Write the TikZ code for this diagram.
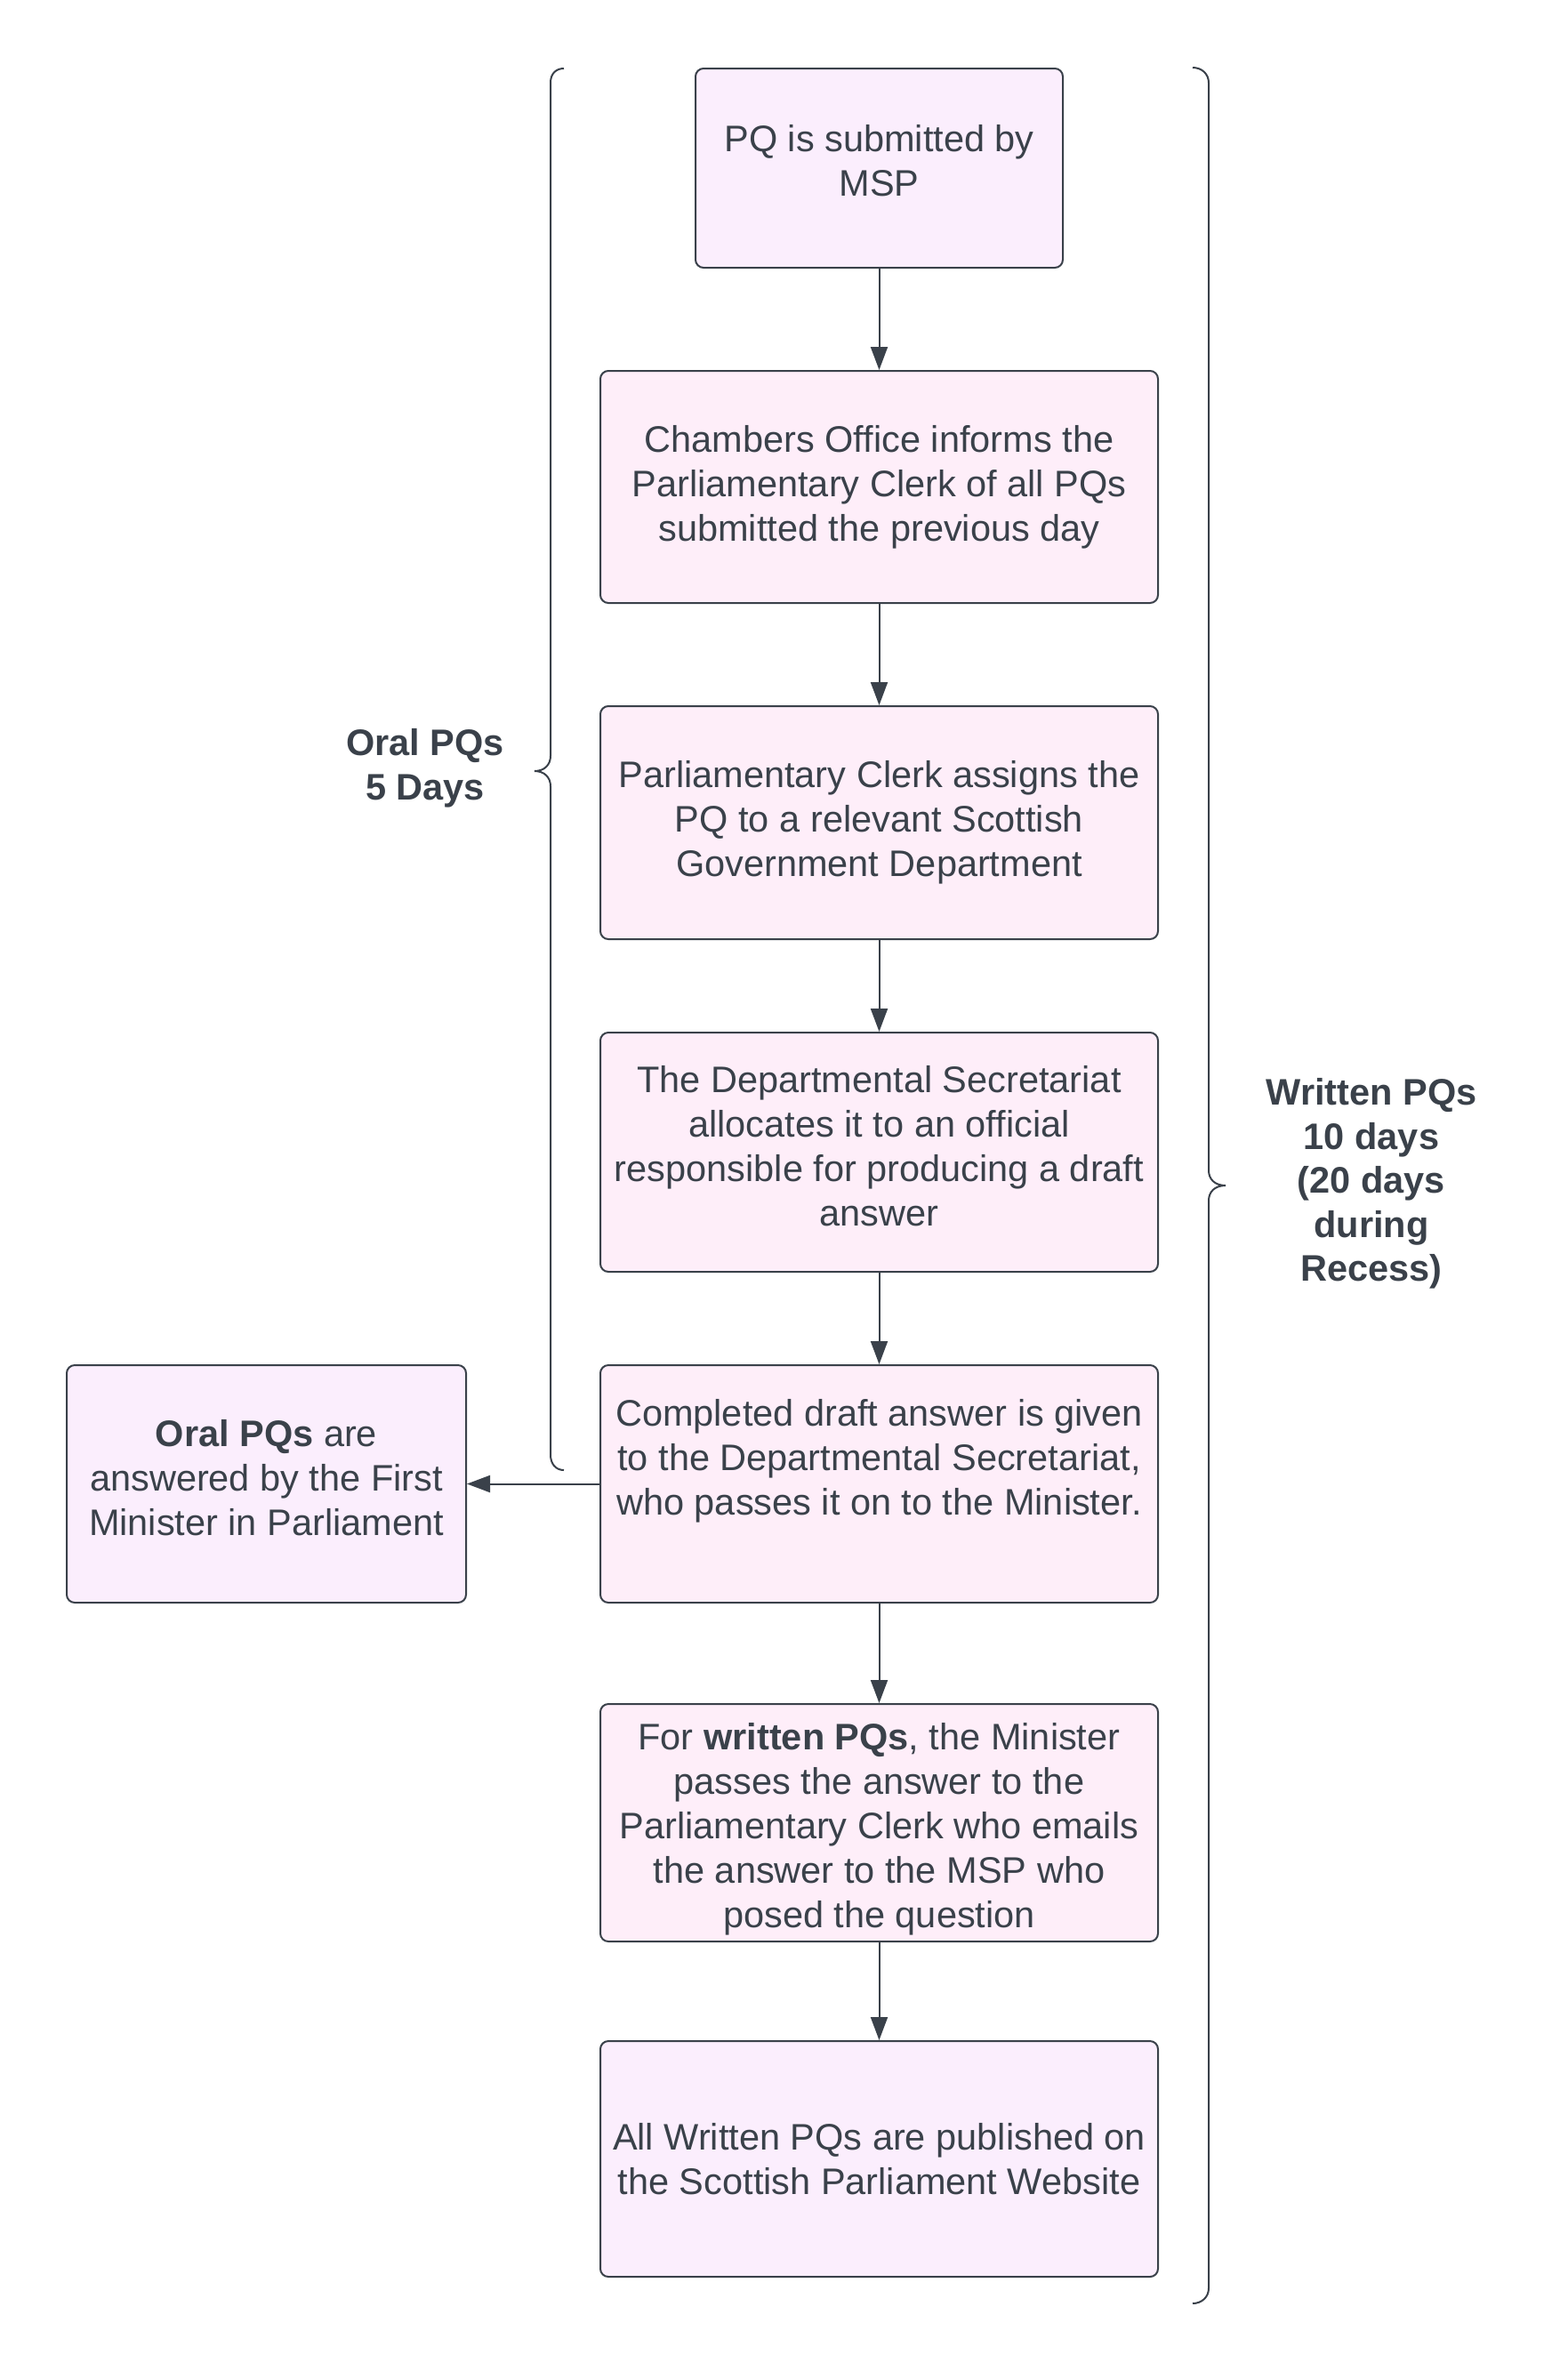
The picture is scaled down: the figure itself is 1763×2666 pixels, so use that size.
\documentclass[tikz,border=0pt]{standalone}
\usepackage{fontspec}
\setmainfont{Liberation Sans}
\usetikzlibrary{arrows.meta}
\definecolor{tx}{HTML}{3A414A}
\definecolor{ln}{HTML}{3A414A}
\definecolor{lav}{HTML}{FBEEFD}
\definecolor{pnk}{HTML}{FEEEF9}
\tikzset{
  box/.style={draw=ln, line width=2pt, rounded corners=9pt, align=center,
    text=tx, inner sep=0pt, font=\fontsize{41.5}{50}\selectfont},
  widebox/.style={box, minimum width=627pt},
  arr/.style={draw=ln, line width=2pt, -{Triangle[length=26pt,width=19pt]}},
  bracepath/.style={draw=ln, line width=2pt},
  lbl/.style={align=center, text=tx, inner sep=0pt, font=\bfseries\fontsize{41.5}{49.5}\selectfont}
}
\begin{document}
\begin{tikzpicture}[x=1pt,y=-1pt]
\useasboundingbox (0,0) rectangle (1763,2666);
\fill[white] (0,0) rectangle (1763,2666);

\node[box, fill=lav, minimum width=413pt, minimum height=224pt] (b1) at (988.5,189)
  {PQ is submitted by\\MSP\\[-33pt]\mbox{}};
\node[widebox, fill=pnk, minimum height=261pt] (b2) at (988.5,547.5)
  {Chambers Office informs the\\Parliamentary Clerk of all PQs\\submitted the previous day};
\node[widebox, fill=pnk, minimum height=262pt] (b3) at (988.5,925)
  {Parliamentary Clerk assigns the\\PQ to a relevant Scottish\\Government Department};
\node[widebox, fill=pnk, minimum height=269pt] (b4) at (988.5,1295.5)
  {The Departmental Secretariat\\allocates it to an official\\responsible for producing a draft\\answer\\[-36pt]\mbox{}};
\node[widebox, fill=pnk, minimum height=267pt] (b5) at (988.5,1668.5)
  {Completed draft answer is given\\to the Departmental Secretariat,\\who passes it on to the Minister.\\[11pt]\mbox{}};
\node[widebox, fill=pnk, minimum height=267pt] (b6) at (988.5,2049.5)
  {\mbox{}\\[-6pt]For \textbf{written PQs}, the Minister\\passes the answer to the\\Parliamentary Clerk who emails\\the answer to the MSP who\\posed the question};
\node[widebox, fill=lav, minimum height=265pt] (b7) at (988.5,2427.5)
  {All Written PQs are published on\\the Scottish Parliament Website};
\node[box, fill=lav, minimum width=449pt, minimum height=267pt] (left) at (299.5,1668.5)
  {\textbf{Oral PQs} are\\answered by the First\\Minister in Parliament\\[-36pt]\mbox{}};

\draw[arr] (b1) -- (b2);
\draw[arr] (b2) -- (b3);
\draw[arr] (b3) -- (b4);
\draw[arr] (b4) -- (b5);
\draw[arr] (b5) -- (b6);
\draw[arr] (b6) -- (b7);
\draw[arr] (b5.west) -- (left.east);

% left brace (Oral PQs)
\draw[bracepath] (634,77) .. controls (625,77) and (619,83) .. (619,93)
  -- (619,850) .. controls (619,860) and (612,867) .. (601,867)
  .. controls (612,867) and (619,874) .. (619,884)
  -- (619,1636) .. controls (619,1646) and (625,1653) .. (634,1653);
% right brace (Written PQs)
\draw[bracepath] (1341,76) .. controls (1351,76) and (1359,83) .. (1359,93)
  -- (1359,1316) .. controls (1359,1326) and (1366,1333) .. (1378,1333)
  .. controls (1366,1333) and (1359,1340) .. (1359,1350)
  -- (1359,2573) .. controls (1359,2583) and (1351,2590) .. (1341,2590);

\node[lbl] (oral) at (478,864) {Oral PQs\\5 Days};
\node[lbl] (written) at (1542,1331) {Written PQs\\10 days\\(20 days\\during\\Recess)};
\end{tikzpicture}
\end{document}
